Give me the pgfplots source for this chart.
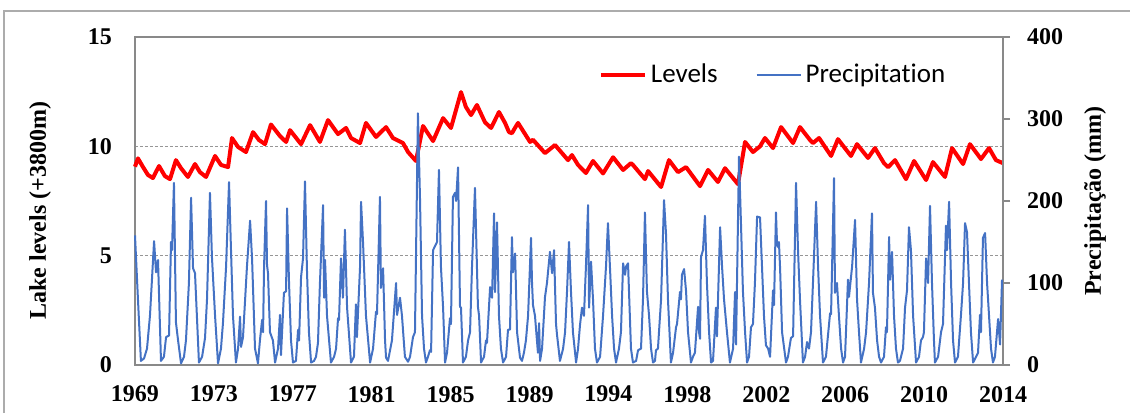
\documentclass[border=0pt]{standalone}
\usepackage{pgfplots}
\pgfplotsset{compat=1.18}
\usepackage{fontspec}
\setmainfont{Liberation Serif}
\newfontfamily\legendfont[Ligatures={NoCommon,NoRequired,NoContextual}]{Carlito}
\definecolor{axgray}{RGB}{137,137,137}
\definecolor{gridgray}{RGB}{150,150,150}
\definecolor{xlblue}{RGB}{68,114,196}
\begin{document}
\begin{tikzpicture}
\useasboundingbox (-67.5pt,-24pt) rectangle (497.5pt,182.5pt);
\begin{axis}[
  scale only axis, width=434pt, height=164pt,
  xmin=0, xmax=528, ymin=0, ymax=15,
  axis line style={axgray, line width=1pt},
  xtick={0,48,...,528},
  xticklabels={1969,1973,1977,1981,1985,1989,1994,1998,2002,2006,2010,2014},
  ytick={0,5,10,15},
  major tick length=0pt,
  ymajorgrids, grid style={gridgray, line width=0.6pt, dash pattern=on 1.5pt off 1pt},
  tick label style={font=\fontsize{12}{14}\selectfont\bfseries, /pgf/number format/assume math mode=true},
  yticklabel style={xshift=-8pt},
  xticklabel style={yshift=-7pt},
  ylabel={Lake levels (+3800m)},
  ylabel style={at={(axis description cs:-0.1094,0.47)}, anchor=center, font=\fontsize{12}{14}\selectfont\bfseries},
  clip=false,
]
\addplot[red, line width=2pt, line join=round] coordinates {
(0,9.07)(1.8,9.45)(4.9,9.05)(7.9,8.69)(10.9,8.55)(14.6,9.10)(18.2,8.64)(21.3,8.50)(24.9,9.37)(28.0,9.00)(32.2,8.60)(36.5,9.19)(39.5,8.82)(43.2,8.60)(48.7,9.56)(52.3,9.15)(56.6,9.05)(59.0,10.38)(62.7,9.97)(67.5,9.74)(71.8,10.65)(75.4,10.29)(79.1,10.10)(82.7,11.00)(88.2,10.47)(91.9,10.20)(94.3,10.74)(101.0,10.10)(106.5,10.97)(112.5,10.20)(117.4,11.20)(123.5,10.56)(128.4,10.84)(131.4,10.38)(136.9,10.15)(140.5,11.07)(146.6,10.43)(152.7,10.88)(156.9,10.38)(163.0,10.15)(166.1,9.74)(170.9,9.33)(175.2,10.93)(181.3,10.24)(187.4,11.29)(192.2,10.84)(198.3,12.48)(201.3,11.80)(204.4,11.43)(208.0,11.89)(212.9,11.10)(216.6,10.84)(221.4,11.57)(225.1,11.07)(227.5,10.65)(229.3,10.60)(231.2,10.85)(233.0,11.07)(240.3,10.20)(242.1,10.30)(249.4,9.69)(255.5,10.06)(263.4,9.37)(265.8,9.60)(269.5,9.15)(274.3,8.78)(278.6,9.33)(284.7,8.76)(290.8,9.50)(296.9,8.92)(301.7,9.23)(302.9,9.15)(310.2,8.50)(312.1,8.87)(320.0,8.14)(324.8,9.37)(330.3,8.82)(335.2,9.05)(343.7,8.18)(348.6,8.92)(354.6,8.37)(358.9,9.00)(366.8,8.27)(371.1,10.20)(375.9,9.74)(380.2,10.00)(383.2,10.38)(388.1,9.92)(393.0,10.88)(400.3,10.15)(404.5,10.88)(410.6,10.29)(412.4,10.15)(416.1,10.38)(423.4,9.56)(427.6,10.33)(435.5,9.56)(439.2,10.10)(445.9,9.47)(450.1,9.92)(455.6,9.23)(458.1,9.05)(462.3,9.37)(469.0,8.50)(473.9,9.33)(481.2,8.46)(485.4,9.28)(492.7,8.60)(497.0,9.92)(503.7,9.19)(507.9,10.10)(514.6,9.42)(519.5,9.92)(523.7,9.37)(528.0,9.23)
};
\end{axis}
\begin{axis}[
  scale only axis, width=434pt, height=164pt,
  xmin=0, xmax=528, ymin=0, ymax=400,
  axis x line=none, axis y line*=right,
  axis line style={axgray, line width=1pt},
  ytick={0,100,...,400},
  tick align=outside, major tick length=3.5pt,
  tick style={axgray, line width=1pt},
  yticklabel style={font=\fontsize{12}{14}\selectfont\bfseries, /pgf/number format/assume math mode=true, xshift=5pt},
  ylabel={Precipitação (mm)},
  ylabel style={at={(axis description cs:1.106,0.5)}, anchor=center, rotate=0, font=\fontsize{12}{14}\selectfont\bfseries},
  legend style={draw=none, fill=none, at={(0.534,0.884)}, anchor=west, inner sep=0pt,
    font=\legendfont\fontsize{13.5}{15}\selectfont,
    /tikz/every even column/.append style={column sep=17pt}},
  legend columns=2, legend cell align=left,
  legend image code/.code={\draw[#1] (0pt,0pt) -- (22pt,0pt);},
  clip=false,
]
\addlegendimage{red, line width=2pt}
\addlegendentry{Levels}
\addplot[xlblue, line width=1pt, line join=round] coordinates {
(0.0,158)(1.8,80)(3.6,5)(5.5,8)(7.3,20)(9.1,60)(11.6,151)(12.8,113)(14.0,128)(15.8,5)(17.6,10)(18.9,34)(20.7,36)(21.9,150)(22.5,140)(23.7,222)(24.9,52)(26.2,30)(28.0,2)(29.8,10)(31.0,30)(32.8,100)(34.1,204)(35.3,118)(36.5,112)(38.9,3)(40.8,10)(42.6,33)(43.8,80)(45.6,210)(46.8,132)(48.7,60)(50.5,2)(52.3,20)(53.5,51)(55.4,120)(57.2,223)(58.4,140)(59.6,60)(61.4,3)(62.7,20)(63.9,59)(64.5,22)(65.7,34)(68.1,120)(70.0,176)(71.2,130)(73.0,20)(74.8,2)(76.0,30)(77.3,55)(77.9,40)(78.5,120)(79.7,200)(80.3,122)(80.9,112)(82.1,40)(83.9,30)(85.2,3)(87.0,20)(88.2,61)(88.8,12)(90.6,88)(91.9,90)(92.5,191)(93.7,100)(94.9,30)(96.1,3)(97.9,5)(99.2,43)(99.8,30)(101.0,107)(102.2,130)(103.4,224)(104.6,116)(105.8,40)(107.1,3)(108.9,5)(110.1,10)(111.3,27)(112.5,100)(114.4,195)(115.0,82)(115.6,128)(116.8,60)(119.2,3)(121.1,10)(122.3,20)(123.5,57)(124.1,55)(125.3,130)(126.5,82)(127.7,165)(129.0,70)(131.4,3)(133.2,10)(134.4,74)(135.0,34)(136.9,120)(137.5,199)(138.7,150)(140.5,60)(143.0,3)(144.8,20)(146.6,65)(147.2,62)(149.0,205)(149.6,94)(150.9,118)(152.1,30)(152.7,9)(153.9,5)(156.3,30)(158.8,100)(159.4,61)(161.2,82)(162.4,60)(164.2,10)(166.1,4)(167.3,10)(169.1,34)(170.3,40)(172.1,307)(173.4,200)(174.6,60)(175.8,20)(177.0,3)(178.2,10)(179.4,18)(180.1,16)(181.3,140)(182.5,145)(183.7,150)(184.9,238)(186.1,120)(187.4,70)(188.6,3)(189.8,15)(191.6,57)(192.2,50)(193.4,205)(194.7,210)(195.3,200)(196.5,241)(197.7,71)(198.3,70)(199.5,3)(201.3,10)(202.6,30)(203.8,40)(205.0,120)(206.8,216)(208.0,120)(208.6,71)(209.3,60)(210.5,3)(212.3,10)(213.5,30)(214.1,27)(216.0,95)(217.2,82)(218.4,185)(219.0,89)(220.2,174)(221.4,60)(222.6,20)(223.9,3)(225.7,10)(226.9,43)(228.1,43)(229.3,156)(229.9,113)(231.2,136)(232.4,40)(234.2,9)(235.4,5)(236.6,15)(237.8,30)(239.1,60)(240.9,155)(241.5,100)(242.1,73)(243.3,60)(245.1,15)(245.8,51)(246.4,5)(247.6,20)(249.4,83)(250.6,100)(252.4,138)(253.7,112)(254.9,140)(256.1,50)(256.7,37)(258.5,5)(260.4,20)(261.6,40)(262.8,90)(264.0,150)(265.2,90)(266.4,40)(268.3,3)(269.5,20)(270.7,49)(271.9,70)(273.1,60)(274.3,120)(275.6,195)(276.2,70)(277.4,126)(278.6,80)(279.8,20)(281.0,3)(282.9,10)(284.7,60)(286.5,120)(287.7,173)(288.9,120)(290.2,60)(291.4,20)(292.6,3)(294.4,20)(295.6,40)(296.9,124)(298.1,110)(298.7,120)(299.9,124)(301.7,20)(302.9,3)(304.8,5)(306.0,18)(307.8,20)(309.0,80)(310.2,186)(311.4,90)(312.7,60)(313.9,20)(315.1,3)(316.3,5)(316.9,18)(318.1,20)(320.0,80)(321.8,201)(323.0,160)(324.2,80)(326.0,3)(327.3,15)(329.1,46)(329.7,50)(331.5,89)(332.1,80)(332.7,110)(334.0,117)(335.2,90)(336.4,40)(338.2,3)(339.4,10)(340.6,15)(342.5,71)(343.1,40)(343.7,32)(344.3,132)(345.5,140)(346.7,182)(347.9,100)(349.2,40)(350.4,3)(351.6,5)(353.4,70)(354.0,35)(355.9,168)(357.1,120)(358.3,80)(360.1,40)(361.9,3)(363.8,20)(365.0,89)(365.6,25)(367.4,254)(368.6,173)(369.8,90)(371.1,40)(372.3,3)(373.5,10)(374.7,46)(375.9,50)(377.1,100)(378.4,181)(380.2,180)(381.4,120)(382.6,60)(383.8,24)(385.1,20)(386.3,10)(388.1,91)(388.7,73)(389.9,186)(390.5,150)(391.1,144)(391.7,150)(392.4,118)(393.6,40)(396.0,3)(397.2,10)(399.0,33)(400.3,35)(402.1,222)(403.3,140)(404.5,80)(406.3,3)(407.6,10)(408.8,28)(410.0,20)(411.2,40)(412.4,100)(414.3,199)(415.5,120)(416.7,60)(418.5,3)(420.3,10)(422.8,63)(423.4,62)(425.2,228)(425.8,88)(427.0,100)(428.2,60)(429.5,20)(430.7,3)(431.9,10)(433.7,104)(434.3,83)(436.2,120)(438.0,177)(439.2,80)(440.4,40)(441.6,3)(443.5,20)(444.7,40)(446.5,100)(448.3,185)(448.9,88)(450.1,70)(451.4,30)(452.6,10)(453.8,3)(455.6,10)(456.8,46)(457.4,40)(458.7,156)(459.3,104)(460.5,138)(461.7,60)(462.9,20)(464.1,3)(465.3,5)(467.2,20)(468.4,70)(469.6,91)(470.8,168)(472.0,140)(473.3,60)(475.1,3)(476.9,10)(478.1,30)(479.3,34)(479.9,40)(481.2,130)(482.4,100)(483.6,194)(484.8,100)(486.0,30)(486.6,3)(488.5,10)(490.3,40)(491.5,50)(493.3,170)(493.9,140)(495.2,199)(496.4,100)(497.6,30)(498.8,3)(500.6,10)(502.5,63)(503.7,100)(504.9,173)(506.1,162)(507.3,100)(508.5,40)(509.8,3)(511.6,10)(512.8,15)(514.0,61)(514.6,40)(515.8,155)(517.1,161)(518.3,100)(519.5,60)(520.7,20)(521.9,3)(523.1,10)(525.0,56)(526.2,25)(527.4,104)
};
\addlegendentry{Precipitation}
\end{axis}
\draw[axgray!70, line width=0.6pt] (-65.5pt,-24pt) -- (-65.5pt,177pt) -- (497.5pt,177pt);
\end{tikzpicture}
\end{document}
